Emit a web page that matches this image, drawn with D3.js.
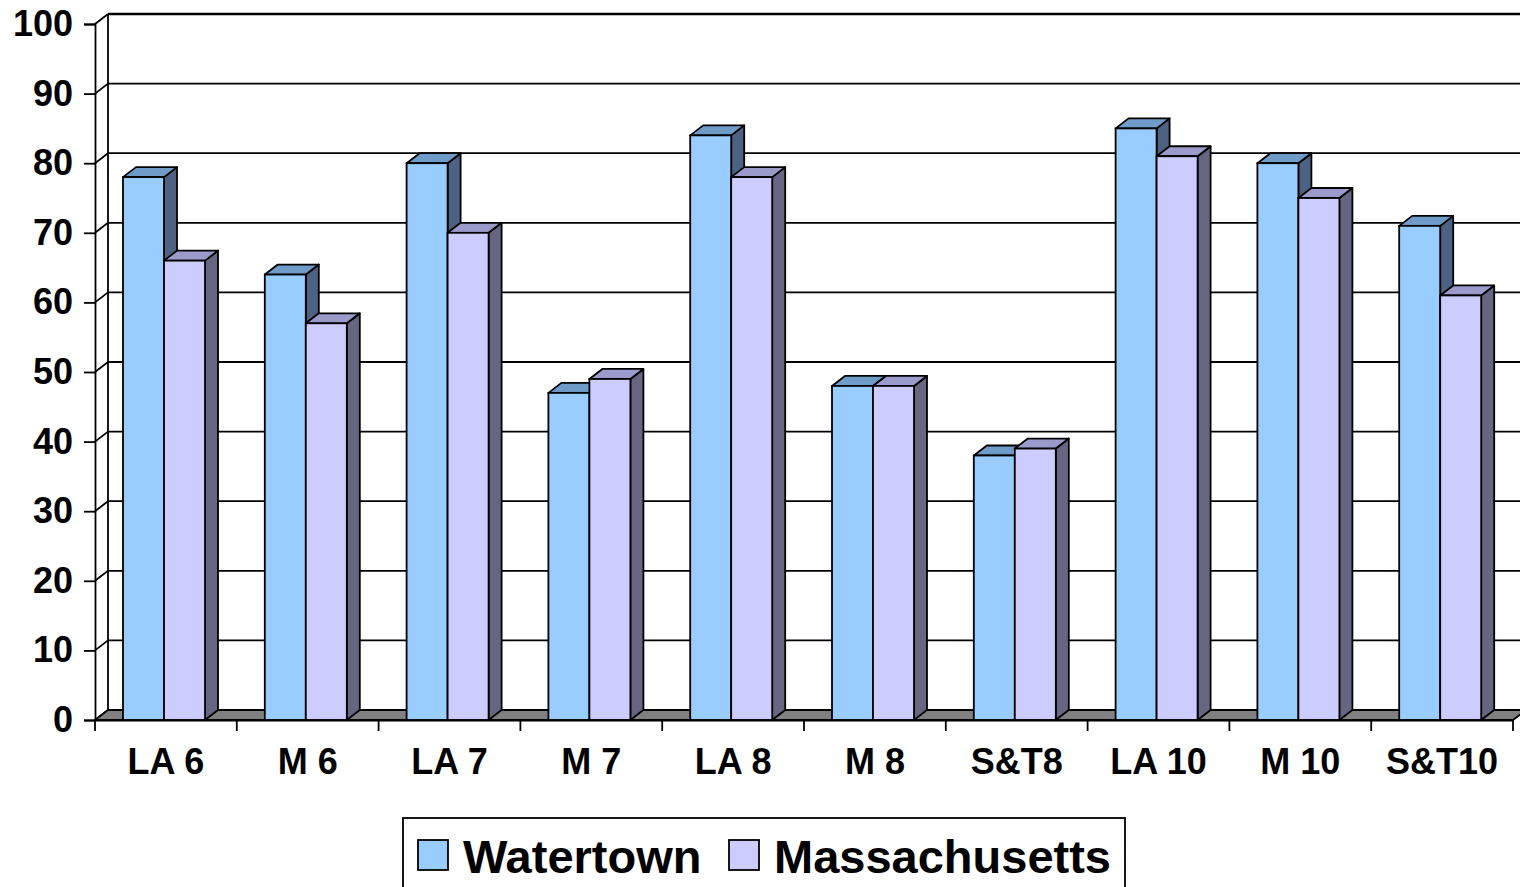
<!DOCTYPE html>
<html>
<head>
<meta charset="utf-8">
<script src="https://cdn.jsdelivr.net/npm/d3@7"></script>
<style>
  body { margin: 0; background: #fff; }
  svg { display: block; font-family: Arial, "Liberation Sans", sans-serif; font-weight: bold; }
</style>
</head>
<body>
<svg width="1520" height="887"></svg>
<script>
// data
var categories = ["LA 6", "M 6", "LA 7", "M 7", "LA 8", "M 8", "S&T8", "LA 10", "M 10", "S&T10"];
var seriesNames = ["Watertown", "Massachusetts"];
var watertown = [78, 64, 80, 47, 84, 48, 38, 85, 80, 71];
var massachusetts = [66, 57, 70, 49, 78, 48, 39, 81, 75, 61];
var yTicks = [0, 10, 20, 30, 40, 50, 60, 70, 80, 90, 100];

var colors = {
  Watertown: { front: "#99ccff", top: "#6f9bc8", side: "#4d6182" },
  Massachusetts: { front: "#ccccff", top: "#9a9acb", side: "#666682" }
};

var svg = d3.select("svg");
var dx = 13, dy = -10;   // depth of the 3d box
var sw = 1.8;

var x = d3.scaleBand().domain(categories).range([95, 1513]);
var xs = d3.scaleBand().domain(seriesNames).range([28, 110]);
var y = d3.scaleLinear().domain([0, 100]).range([720, 24]);

var rows = categories.map(function(c, i) {
  return { cat: c, values: [
    { name: "Watertown", v: watertown[i] },
    { name: "Massachusetts", v: massachusetts[i] }
  ]};
});

/* walls */
var g = svg.append("g");

// back wall gridlines
g.selectAll(".grid").data(yTicks).enter().append("line")
  .attr("x1", 95 + dx).attr("x2", 1540)
  .attr("y1", function(d) { return y(d) + dy; })
  .attr("y2", function(d) { return y(d) + dy; })
  .attr("stroke", "#000")
  .attr("stroke-width", function(d) { return d == 100 ? 2.5 : sw; });

// side wall diagonals
g.selectAll(".diag").data(yTicks).enter().append("line")
  .attr("x1", 95).attr("x2", 95 + dx)
  .attr("y1", function(d) { return y(d); })
  .attr("y2", function(d) { return y(d) + dy; })
  .attr("stroke", "#000").attr("stroke-width", sw);

// back wall left edge
g.append("line")
  .attr("x1", 95 + dx).attr("x2", 95 + dx)
  .attr("y1", y(100) + dy).attr("y2", y(0) + dy)
  .attr("stroke", "#000").attr("stroke-width", sw);

// floor
var x0 = x.range()[0], x1 = x.range()[1];
g.append("path")
  .attr("d", "M" + x0 + "," + y(0) + "L" + x1 + "," + y(0) + "L" + (x1 + dx) + "," + (y(0) + dy) +
             "L" + (x0 + dx) + "," + (y(0) + dy) + "Z")
  .attr("fill", "#808080").attr("stroke", "#000").attr("stroke-width", sw);

/* bars */
var groups = svg.append("g").selectAll(".cat").data(rows).enter().append("g")
  .attr("transform", function(d) { return "translate(" + x(d.cat) + ",0)"; });

var bars = groups.selectAll(".bar").data(function(d) { return d.values; }).enter().append("g");
var bw = xs.bandwidth();

bars.append("path") // side
  .attr("d", function(d) {
    var l = xs(d.name) + bw, t = y(d.v), b = y(0);
    return "M" + l + "," + b + "L" + l + "," + t + "L" + (l + dx) + "," + (t + dy) + "L" + (l + dx) + "," + (b + dy) + "Z";
  })
  .attr("fill", function(d) { return colors[d.name].side; })
  .attr("stroke", "#000").attr("stroke-width", sw).attr("stroke-linejoin", "round");

bars.append("path") // top
  .attr("d", function(d) {
    var l = xs(d.name), t = y(d.v);
    return "M" + l + "," + t + "L" + (l + bw) + "," + t + "L" + (l + bw + dx) + "," + (t + dy) + "L" + (l + dx) + "," + (t + dy) + "Z";
  })
  .attr("fill", function(d) { return colors[d.name].top; })
  .attr("stroke", "#000").attr("stroke-width", sw).attr("stroke-linejoin", "round");

bars.append("rect") // front
  .attr("x", function(d) { return xs(d.name); })
  .attr("y", function(d) { return y(d.v); })
  .attr("width", bw)
  .attr("height", function(d) { return y(0) - y(d.v); })
  .attr("fill", function(d) { return colors[d.name].front; })
  .attr("stroke", "#000").attr("stroke-width", sw);

/* axes */
var yAxis = svg.append("g")
  .attr("transform", "translate(95,0)")
  .call(d3.axisLeft(y).tickValues(yTicks).tickSize(11).tickPadding(11));
yAxis.select(".domain").attr("stroke-width", sw);
yAxis.selectAll(".tick line").attr("stroke-width", sw);
yAxis.selectAll("text").attr("font-size", 36).attr("font-family", "Arial, 'Liberation Sans', sans-serif")
  .attr("font-weight", "bold").attr("fill", "#000");

var xAxis = svg.append("g")
  .attr("transform", "translate(0," + y(0) + ")")
  .call(d3.axisBottom(x).tickSize(0).tickSizeOuter(0).tickPadding(0));
xAxis.select(".domain").attr("stroke-width", sw);
xAxis.selectAll(".tick line").remove();
xAxis.selectAll("text").attr("font-size", 36).attr("font-family", "Arial, 'Liberation Sans', sans-serif")
  .attr("font-weight", "bold").attr("fill", "#000").attr("dy", null).attr("y", 54);

// category separators
var seps = categories.map(function(c) { return x(c); }).concat([x1]);
xAxis.selectAll(".sep").data(seps).enter().append("line")
  .attr("x1", function(d) { return d; }).attr("x2", function(d) { return d; })
  .attr("y1", 0).attr("y2", 11)
  .attr("stroke", "#000").attr("stroke-width", sw);

/* legend */
var legend = svg.append("g");
legend.append("rect")
  .attr("x", 403).attr("y", 818).attr("width", 722).attr("height", 90)
  .attr("fill", "#fff").attr("stroke", "#000").attr("stroke-width", sw);

var legX = [418, 729];
var li = legend.selectAll(".li").data(seriesNames).enter().append("g")
  .attr("transform", function(d, i) { return "translate(" + legX[i] + ",840)"; });
li.append("rect").attr("width", 30).attr("height", 30)
  .attr("fill", function(d) { return colors[d].front; })
  .attr("stroke", "#000").attr("stroke-width", sw);
li.append("text").attr("x", 45).attr("y", 33)
  .attr("font-size", 47).attr("fill", "#000")
  .text(function(d) { return d; });
</script>
</body>
</html>
